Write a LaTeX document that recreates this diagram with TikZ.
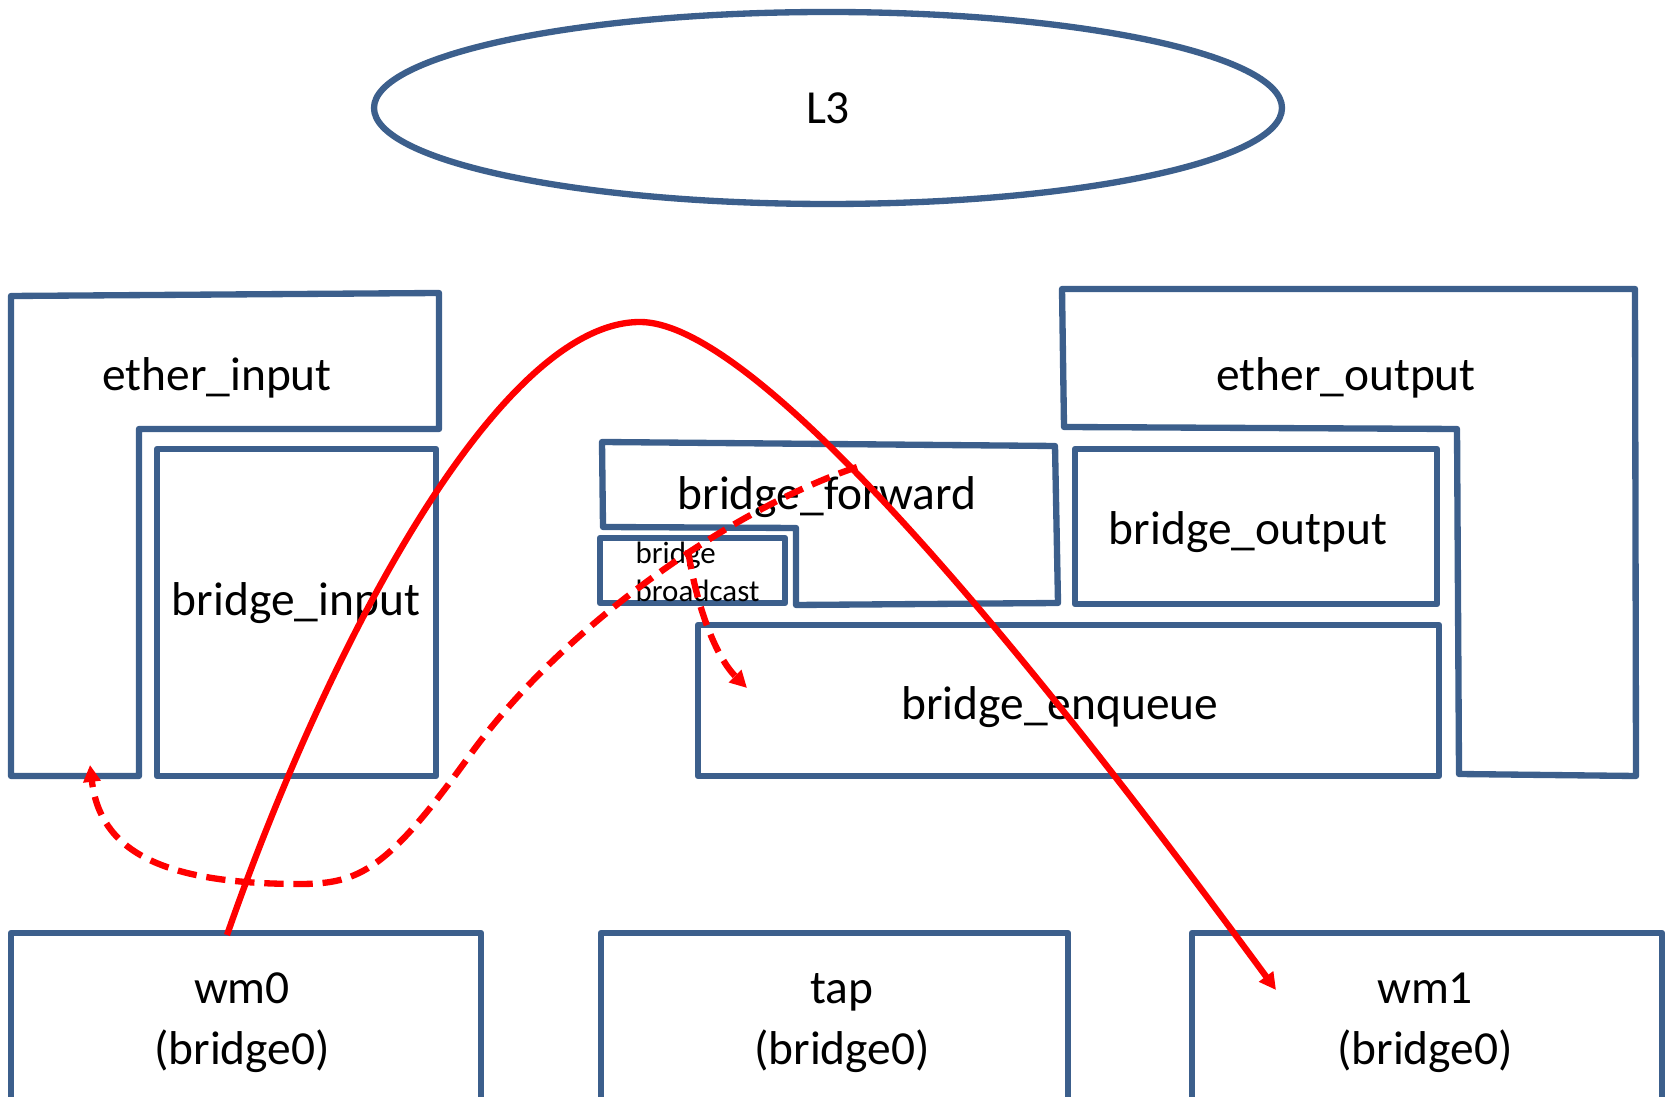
\documentclass[tikz,border=0pt]{standalone}
\usepackage{fontspec}
\setmainfont{Carlito}
\usetikzlibrary{arrows.meta,shapes.geometric}
\definecolor{boxblue}{RGB}{60,95,140}
\definecolor{pathred}{RGB}{255,0,0}

\begin{document}
\begin{tikzpicture}[x=0.1mm, y=-0.1mm,
  box/.style={draw=boxblue, line width=1.8pt, line join=round},
  lbl/.style={font=\fontsize{13.5}{17.3}\selectfont, inner sep=0pt},
  small/.style={font=\fontsize{8.8}{10.8}\selectfont, inner sep=0pt},
  flow/.style={draw=pathred, line width=1.8pt, ->, >={Triangle[length=4.8pt,width=4.8pt]}},
  dflow/.style={flow, dash pattern=on 5.5pt off 2.8pt}]
\useasboundingbox (0,0) rectangle (1667,1097);
\node[box, ellipse, inner sep=0pt, minimum width=90.8mm, minimum height=19.2mm, font=\fontsize{13.5}{17.3}\selectfont] (l3) at (828,108) {\raisebox{-1.2pt}{L3}};
\draw[box] (11,296) -- (439,293) -- (439,429) -- (139,429) -- (139,776) -- (11,776) -- cycle;
\draw[box] (157,449) rectangle (436,776);
\draw[box] (602,442) -- (1055,446) -- (1058,603) -- (796,605) -- (796,528) -- (603,527) -- cycle;
\draw[box] (600,538) rectangle (785,603);
\draw[box] (1062,289) -- (1635,289) -- (1636,776) -- (1459,774) -- (1457,429) -- (1064,427) -- cycle;
\draw[box] (1075,449) rectangle (1437,604);
\draw[box] (698,625) rectangle (1439,776);
\draw[box] (11,1110) -- (11,933) -- (481,933) -- (481,1110);
\draw[box] (601,1110) -- (601,933) -- (1068,933) -- (1068,1110);
\draw[box] (1192,1110) -- (1192,933) -- (1662,933) -- (1662,1110);
\node[lbl] (einput) at (217,378) {ether\_input};
\node[lbl] (binput) at (296,603) {bridge\_input};
\node[lbl] (bfwd) at (827,497) {bridge\_forward};
\node[small, align=left, anchor=west] (bbcast) at (635,572) {bridge\\broadcast};
\node[lbl] (eoutput) at (1346,378) {ether\_output};
\node[lbl] (boutput) at (1248,532) {bridge\_output};
\node[lbl] (benq) at (1060,707) {bridge\_enqueue};
\node[lbl, align=center] (wm0) at (242,1023) {wm0\\(bridge0)};
\node[lbl, align=center] (tap) at (842,1023) {tap\\(bridge0)};
\node[lbl, align=center] (wm1) at (1425,1023) {wm1\\(bridge0)};
\coordinate (src) at (227,935);
\coordinate (hop) at (640,322);
\coordinate (dst) at (1276,990);
\coordinate (fork) at (857,467);
\coordinate (split) at (688,550);
\coordinate (eback) at (90,765);
\coordinate (enq) at (747,688);
\draw[flow] (src) .. controls (330,640) and (500,322) .. (hop) .. controls (740,322) and (960,560) .. (dst);
\draw[dflow] (fork) .. controls (725,512) and (560,630) .. (470,755) .. controls (388,869) and (360,884) .. (300,884) .. controls (160,884) and (100,850) .. (eback);
\draw[dflow] (split) .. controls (697,610) and (717,658) .. (enq);
\end{tikzpicture}
\end{document}
